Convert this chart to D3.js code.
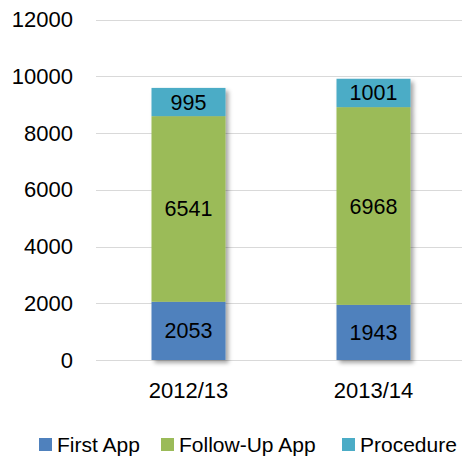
<!DOCTYPE html>
<html>
<head>
<meta charset="utf-8">
<script src="https://cdn.jsdelivr.net/npm/d3@7"></script>
<style>
body { margin: 0; background: #fff; }
text { font-family: "Liberation Sans", Arial, sans-serif; fill: #000; }
</style>
</head>
<body>
<svg id="chart"></svg>
<script>
var width = 462;
var height = 459;

// data
var years = ["2012/13", "2013/14"];
var seriesNames = ["First App", "Follow-Up App", "Procedure"];
var firstApp = [2053, 1943];
var followUpApp = [6541, 6968];
var procedure = [995, 1001];
var yTicks = [0, 2000, 4000, 6000, 8000, 10000, 12000];

var colors = ["#4f81bd", "#9bbb59", "#4bacc6"];

var svg = d3.select("#chart")
	.attr("width", width)
	.attr("height", height);

var defs = svg.append("defs");
var shadow = defs.append("filter").attr("id", "shadow")
	.attr("x", "-20%").attr("y", "-20%").attr("width", "150%").attr("height", "150%");
shadow.append("feDropShadow")
	.attr("dx", 3).attr("dy", 3).attr("stdDeviation", 2)
	.attr("flood-color", "#000").attr("flood-opacity", 0.35);

var yScale = d3.scaleLinear()
	.domain([0, 12000])
	.range([360, 19.5]);

var xScale = d3.scaleBand()
	.domain(years)
	.range([96, 466])
	.paddingInner(0.6)
	.paddingOuter(0.3);

// gridlines
svg.append("g").selectAll("line")
	.data(yTicks)
	.enter().append("line")
	.attr("x1", 96).attr("x2", width)
	.attr("y1", (d) => Math.round(yScale(d)) + 0.5)
	.attr("y2", (d) => Math.round(yScale(d)) + 0.5)
	.attr("stroke", "#d9d9d9").attr("stroke-width", 1);

// y axis labels
svg.append("g").selectAll("text")
	.data(yTicks)
	.enter().append("text")
	.attr("x", 73)
	.attr("y", (d) => yScale(d) + 7.5)
	.attr("text-anchor", "end")
	.style("font-size", "22px")
	.text((d) => d);

// stack the series
var rows = years.map(function (y, i) {
	return { year: y, "First App": firstApp[i], "Follow-Up App": followUpApp[i], "Procedure": procedure[i] };
});
var stacked = d3.stack().keys(seriesNames)(rows);

var bars = svg.append("g");
years.forEach(function (y, i) {
	var g = bars.append("g").attr("filter", "url(#shadow)");
	stacked.forEach(function (s, k) {
		g.append("rect")
			.attr("x", xScale(y))
			.attr("width", xScale.bandwidth())
			.attr("y", yScale(s[i][1]))
			.attr("height", yScale(s[i][0]) - yScale(s[i][1]))
			.attr("fill", colors[k]);
	});
});

// value labels
stacked.forEach(function (s, k) {
	svg.append("g").selectAll("text")
		.data(s)
		.enter().append("text")
		.attr("x", (d) => xScale(d.data.year) + xScale.bandwidth() / 2)
		.attr("y", (d) => (yScale(d[0]) + yScale(d[1])) / 2 + 7.5)
		.attr("text-anchor", "middle")
		.style("font-size", "21.5px")
		.text((d) => d[1] - d[0]);
});

// x axis labels
svg.append("g").selectAll("text")
	.data(years)
	.enter().append("text")
	.attr("x", (d) => xScale(d) + xScale.bandwidth() / 2)
	.attr("y", 398)
	.attr("text-anchor", "middle")
	.style("font-size", "22px")
	.text((d) => d);

// legend
var legendX = [39, 161, 342];
var legend = svg.append("g").selectAll("g")
	.data(seriesNames)
	.enter().append("g")
	.attr("transform", (d, i) => "translate(" + legendX[i] + ",438)");
legend.append("rect")
	.attr("width", 13).attr("height", 13)
	.attr("fill", (d, i) => colors[i]);
legend.append("text")
	.attr("x", 18).attr("y", 13.5)
	.style("font-size", "21px")
	.text((d) => d);
</script>
</body>
</html>
